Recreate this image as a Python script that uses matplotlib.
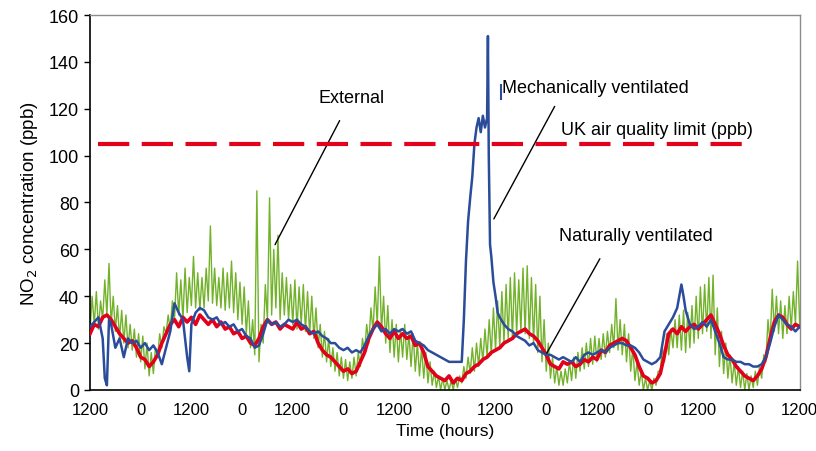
import numpy as np
import matplotlib
matplotlib.use("Agg")
import matplotlib.pyplot as plt

plt.rcParams['font.family'] = ['Liberation Sans', 'DejaVu Sans']

# --- data (hours from start, NO2 in ppb) ---
hours = np.arange(0, 169)

# external reading is very noisy: lower and upper edge of the trace for each hour
ext_low = [25, 28, 26, 30, 32, 28, 25, 22, 20, 18, 17, 14, 12, 9, 6, 7, 14, 18, 24, 26,
           30, 32, 30, 33, 36, 35, 34, 35, 38, 37, 36, 35, 34, 35, 33, 30, 28, 24, 18, 15,
           12, 20, 30, 32, 35, 30, 32, 30, 28, 26, 28, 25, 24, 22, 18, 14, 12, 10, 8, 6,
           5, 4, 5, 6, 10, 16, 20, 25, 28, 25, 20, 16, 14, 12, 14, 13, 10, 8, 6, 5,
           3, 2, 1, 0, 0, 0, 0, 1, 3, 5, 7, 8, 10, 12, 14, 15, 17, 18, 20, 22,
           22, 24, 25, 24, 22, 20, 16, 12, 8, 5, 3, 2, 2, 3, 4, 5, 8, 9, 10, 11,
           12, 13, 14, 16, 18, 17, 15, 12, 8, 4, 2, 0, 0, 0, 2, 8, 12, 15, 18, 18,
           17, 16, 18, 20, 22, 24, 25, 22, 15, 10, 7, 5, 3, 2, 1, 0, 0, 1, 2, 5,
           12, 20, 25, 24, 22, 24, 26, 28, 28]
ext_high = [40, 42, 38, 47, 54, 40, 36, 34, 32, 28, 26, 24, 23, 20, 16, 18, 24, 27, 32, 38,
            50, 47, 52, 48, 57, 50, 48, 52, 70, 52, 48, 52, 50, 55, 50, 46, 44, 38, 30, 85,
            28, 45, 82, 60, 66, 50, 48, 45, 47, 44, 45, 42, 40, 35, 28, 25, 22, 18, 16, 14,
            13, 12, 14, 16, 22, 28, 35, 44, 57, 40, 36, 30, 28, 26, 28, 24, 24, 20, 18, 16,
            12, 8, 6, 5, 4, 4, 5, 6, 10, 14, 18, 20, 22, 26, 30, 35, 38, 42, 45, 48,
            50, 47, 52, 53, 48, 45, 40, 30, 20, 14, 10, 8, 9, 12, 14, 16, 18, 20, 22, 23,
            22, 24, 25, 28, 39, 30, 28, 24, 18, 12, 8, 5, 4, 5, 8, 18, 24, 26, 30, 32,
            34, 33, 36, 40, 44, 45, 48, 49, 35, 25, 20, 15, 12, 10, 8, 7, 6, 8, 10, 15,
            30, 43, 40, 38, 36, 40, 42, 55, 40]

natural = [24, 28, 27, 31, 32, 30, 27, 24, 22, 20, 21, 18, 14, 13, 10, 12, 15, 20, 24, 28,
           30, 27, 31, 29, 31, 28, 32, 30, 28, 30, 27, 29, 26, 27, 24, 25, 22, 23, 20, 19,
           22, 27, 30, 28, 29, 26, 28, 27, 26, 29, 26, 27, 24, 25, 20, 17, 15, 14, 12, 10,
           8, 9, 7, 8, 12, 16, 22, 26, 29, 27, 24, 22, 25, 22, 24, 22, 23, 19, 20, 16,
           10, 8, 6, 5, 4, 6, 3, 5, 4, 7, 8, 10, 11, 13, 14, 16, 17, 18, 20, 21,
           22, 24, 25, 26, 24, 23, 21, 18, 15, 11, 10, 9, 12, 11, 12, 10, 11, 13, 12, 14,
           13, 17, 16, 19, 20, 21, 22, 21, 18, 15, 10, 6, 5, 3, 4, 7, 15, 24, 26, 24,
           27, 25, 27, 28, 26, 28, 30, 32, 28, 24, 19, 15, 13, 10, 8, 6, 5, 4, 6, 9,
           14, 22, 29, 32, 31, 28, 26, 28, 27]

mech_hours = [0, 1, 2, 3, 3.5, 4, 4.5, 5, 6, 7, 8, 9, 10, 11, 12, 13, 14, 15, 16, 17,
              18, 19, 20, 21, 22, 23, 23.5, 24, 25, 26, 27, 28, 29, 30, 31, 32, 33, 34, 35, 36,
              37, 38, 39, 40, 41, 42, 43, 44, 45, 46, 47, 48, 49, 50, 51, 52, 53, 54, 55, 56,
              57, 58, 59, 60, 61, 62, 63, 64, 65, 66, 67, 68, 69, 70, 71, 72, 73, 74, 75, 76,
              77, 78, 79, 80, 81, 82, 83, 84, 85, 86, 87, 88, 88.5, 89, 89.5, 90, 90.5, 91, 91.5, 92,
              92.5, 93, 93.5, 94, 94.2, 94.4, 94.7, 95, 95.5, 96, 96.5, 97, 98, 99, 100, 101, 102, 103, 104,
              105, 106, 107, 108, 109, 110, 111, 112, 113, 114, 115, 116, 117, 118, 119, 120, 121, 122, 123,
              124, 125, 126, 127, 128, 129, 130, 131, 132, 133, 134, 135, 136, 137, 138, 139, 140, 140.5, 141,
              142, 143, 144, 145, 146, 147, 148, 149, 150, 151, 152, 153, 154, 155, 156, 157, 158, 159,
              160, 161, 162, 163, 164, 165, 166, 167, 168]
mechanical = [27, 29, 31, 22, 5, 2, 30, 28, 18, 22, 14, 22, 20, 21, 18, 20, 17, 19, 16, 11,
              18, 25, 37, 33, 30, 14, 8, 28, 33, 35, 34, 31, 30, 31, 28, 29, 27, 28, 25, 26,
              23, 22, 18, 19, 24, 30, 28, 29, 27, 28, 30, 29, 30, 28, 27, 25, 24, 25, 23, 22,
              20, 20, 18, 17, 18, 16, 17, 16, 19, 23, 26, 28, 25, 26, 24, 26, 25, 26, 24, 25,
              21, 20, 19, 17, 16, 15, 14, 13, 12, 12, 12, 12, 30, 55, 72, 82, 91, 105, 112, 116,
              110, 117, 112, 116, 151, 100, 62, 57, 46, 40, 33, 31, 28, 26, 25, 23, 22, 21, 19,
              20, 17, 16, 15, 15, 14, 13, 14, 13, 12, 14, 12, 15, 16, 15, 16, 17, 16, 18,
              19, 20, 20, 19, 19, 18, 16, 13, 12, 11, 12, 14, 25, 28, 31, 35, 45, 40, 34,
              28, 26, 27, 29, 27, 30, 25, 20, 14, 13, 13, 12, 12, 11, 11, 10, 10, 11,
              14, 20, 27, 32, 30, 28, 27, 25, 27]
# short detached blip next to the mechanical peak
mech_blip_hours = [97.3, 97.3]
mech_blip = [124, 130]

uk_limit = 105
limit_span = [2, 156]

tick_hours = list(range(0, 169, 12))
tick_labels = ['1200' if i % 2 == 0 else '0' for i in range(len(tick_hours))]

GREEN = '#72b22a'
RED = '#e3001b'
BLUE = '#2b4c9b'

# external trace: go low -> high -> low ... every half hour
ext_t = []
ext_v = []
for h, lo, hi in zip(hours, ext_low, ext_high):
    ext_t += [h, h + 0.5]
    ext_v += [lo, hi]

fig = plt.figure(figsize=(8.16, 4.52), dpi=100)
ax = fig.add_axes([0.1103, 0.135, 0.8697, 0.8296])

ax.plot(ext_t[:-1], ext_v[:-1], color=GREEN, lw=1.0, zorder=2)
ax.plot(hours, natural, color=RED, lw=2.6, zorder=3)
ax.plot(mech_hours, mechanical, color=BLUE, lw=1.8, zorder=4)
ax.plot(mech_blip_hours, mech_blip, color=BLUE, lw=1.5, zorder=4)

ax.plot(limit_span, [uk_limit, uk_limit], color=RED, lw=3.0,
        dashes=(7.5, 3), solid_capstyle='butt', dash_capstyle='butt', zorder=5)

ax.set_xlim(0, 168)
ax.set_ylim(0, 160)
ax.set_xticks(tick_hours)
ax.set_xticklabels(tick_labels)
ax.set_yticks(range(0, 161, 20))
ax.tick_params(axis='x', length=0, pad=9, labelsize=12)
ax.tick_params(axis='y', length=4, width=1, direction='out', pad=4, labelsize=13)

for side in ['top', 'right']:
    ax.spines[side].set_color('#8c8c8c')
    ax.spines[side].set_linewidth(1.0)
for side in ['left', 'bottom']:
    ax.spines[side].set_color('#000000')
    ax.spines[side].set_linewidth(1.2)

ax.set_xlabel('Time (hours)', fontsize=12.5, labelpad=4)
ax.set_ylabel('NO$_2$ concentration (ppb)', fontsize=13.5, labelpad=6)

# annotations
ax.annotate('External', xy=(43.8, 62), xytext=(62, 125), fontsize=13,
            ha='center', va='center',
            arrowprops=dict(arrowstyle='-', color='black', lw=1.0, shrinkA=10, shrinkB=0))
ax.text(97.5, 129, 'Mechanically ventilated', fontsize=13, ha='left', va='center')
ax.annotate('', xy=(95.6, 73), xytext=(110, 121),
            arrowprops=dict(arrowstyle='-', color='black', lw=1.0, shrinkA=0, shrinkB=0))
ax.text(111.5, 111, 'UK air quality limit (ppb)', fontsize=13, ha='left', va='center')
ax.text(111, 66, 'Naturally ventilated', fontsize=13, ha='left', va='center')
ax.annotate('', xy=(107.9, 15), xytext=(120.7, 56),
            arrowprops=dict(arrowstyle='-', color='black', lw=1.0, shrinkA=0, shrinkB=0))

fig.savefig('out.png', dpi=100)
